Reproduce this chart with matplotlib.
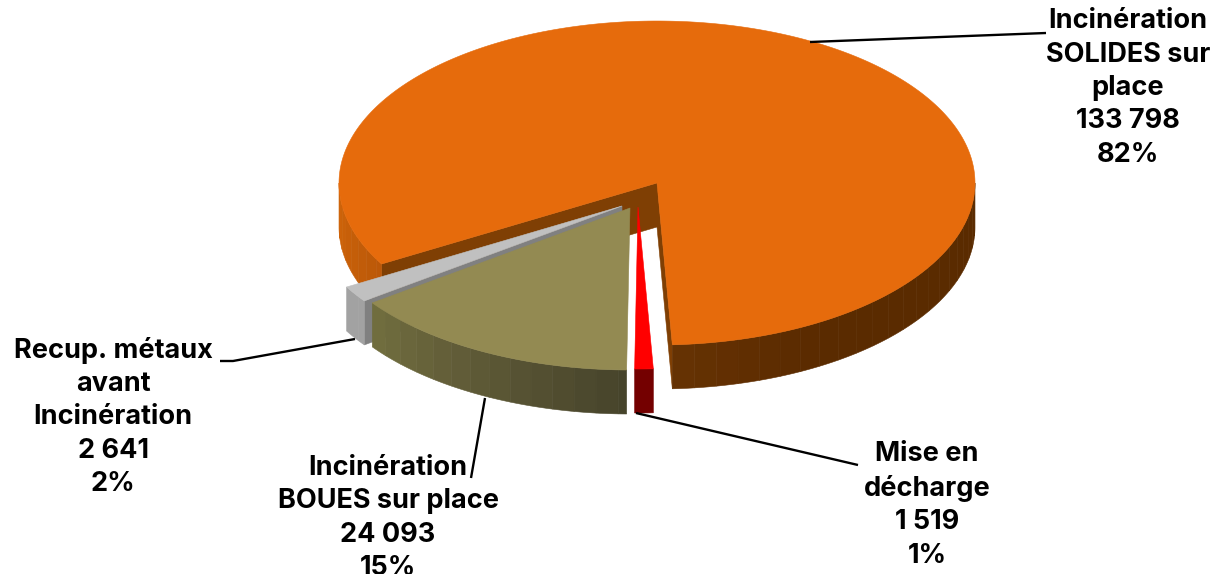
import numpy as np
import matplotlib
matplotlib.use("Agg")
import matplotlib.pyplot as plt
from matplotlib.colors import to_rgb
from matplotlib.patches import Polygon

plt.rcParams['font.family'] = ['Inter', 'Liberation Sans', 'DejaVu Sans']

names = ["Incinération\nSOLIDES sur\nplace", "Mise en\ndécharge",
         "Incinération\nBOUES sur place", "Recup. métaux\navant\nIncinération"]
values = [133798, 1519, 24093, 2641]
value_labels = ["133 798", "1 519", "24 093", "2 641"]
percent_labels = ["82%", "1%", "15%", "2%"]

START_ANGLE = 210.0
RX, RY, DEPTH = 318, 162, 44

# apex of each slice in pixels (the explode offsets of the original)
apex = [(657, 183), (638, 207), (630, 208), (622, 206)]
top_colors = ["#e66b0c", "#ff0000", "#938a52", "#c0c0c0"]
cut_colors = ["#7f3f04", "#7a0000", "#6f6c42", "#808080"]
# rim shading per slice: angles and colours along the front half
wall_angles = [[180, 210, 273, 300, 360], [268, 273], [215, 240, 270], [210, 216]]
wall_colors = [["#d2660a", "#bb5808", "#663203", "#5a2b00", "#5a2b00"],
               ["#7a0000", "#700000"],
               ["#72703f", "#5f5a37", "#45432a"],
               ["#a2a2a2", "#a2a2a2"]]

label_pos = [(1128, 88), (927, 505), (388, 518), (113, 417)]
leaders = [[(810, 42), (1046, 33)], [(636, 413), (858, 465)],
           [(485, 398), (471, 478)], [(220, 361), (233, 361), (355, 339)]]


def arc(center, a1, a2, n=200, drop=0):
    a = np.radians(np.linspace(a1, a2, n))
    return np.column_stack([center[0] + RX * np.cos(a),
                            center[1] - RY * np.sin(a) + drop])


def poly(ax, pts, color):
    ax.add_patch(Polygon(pts, closed=True, facecolor=color, edgecolor=color, linewidth=0.4))


def wall_color(a, i):
    rgb = np.array([to_rgb(c) for c in wall_colors[i]])
    return tuple(np.interp(a, wall_angles[i], rgb[:, k]) for k in range(3))


def draw_outer_wall(ax, center, a1, a2, i):
    # a1 > a2, slices run clockwise. Only the front half of the rim shows.
    for lo, hi in [(a1, a2), (a1 + 360, a2 + 360)]:
        lo, hi = min(lo, 360), max(hi, 180)
        if lo <= hi:
            continue
        edges = np.append(np.arange(hi, lo, 4.0), lo)
        for e1, e2 in zip(edges[:-1], edges[1:]):
            top = arc(center, e1, e2, 8)
            bottom = arc(center, e2, e1, 8, DEPTH)
            poly(ax, np.vstack([top, bottom]), wall_color(0.5 * (e1 + e2), i))


def draw_cut(ax, center, a, i):
    edge = arc(center, a, a, 1)[0]
    c = np.array(center, dtype=float)
    poly(ax, [c, edge, edge + (0, DEPTH), c + (0, DEPTH)], cut_colors[i])


fig = plt.figure(figsize=(12.21, 5.74), dpi=100)
ax = fig.add_axes([0, 0, 1, 1])
ax.set_xlim(0, 1221)
ax.set_ylim(574, 0)
ax.axis('off')

sweeps = np.array(values) / sum(values) * 360
starts = START_ANGLE - np.concatenate([[0], np.cumsum(sweeps)[:-1]])

# back to front: orange, grey, olive, red
for i in [0, 3, 2, 1]:
    a1, a2 = starts[i], starts[i] - sweeps[i]
    if i == 0:
        draw_cut(ax, apex[i], a1, i)
        draw_cut(ax, apex[i], a2 + 360, i)
    elif i == 3:
        draw_cut(ax, apex[i], a1, i)
    draw_outer_wall(ax, apex[i], a1, a2, i)
    poly(ax, np.vstack([apex[i], arc(apex[i], a1, a2, 400)]), top_colors[i])

for pts in leaders:
    pts = np.array(pts)
    ax.plot(pts[:, 0], pts[:, 1], color="black", lw=1.7, solid_capstyle='butt')

for name, val, pct, (x, y) in zip(names, value_labels, percent_labels, label_pos):
    ax.text(x, y, f"{name}\n{val}\n{pct}", ha='center', va='center', fontsize=19.5,
            fontweight='bold', color='black', linespacing=1.365)

fig.savefig("out.png", dpi=100)
